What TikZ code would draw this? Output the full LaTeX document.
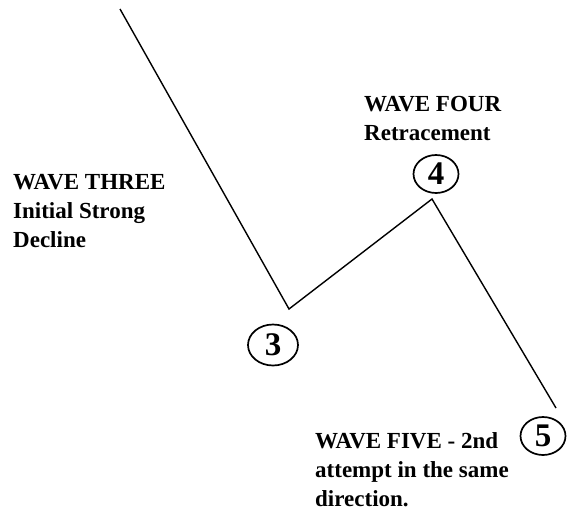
\documentclass[tikz,border=0pt]{standalone}
\usepackage{fontspec}
\setmainfont{Liberation Serif}
\usetikzlibrary{shapes.geometric}

\begin{document}
\begin{tikzpicture}[x=1pt,y=-1pt,
  num/.style = {draw,ellipse,line width=1.7pt,inner sep=0pt,minimum width=45pt,minimum height=38pt,font=\bfseries\fontsize{33}{33}\selectfont},
  lbl/.style = {align=left,anchor=base west,inner sep=0pt,font=\bfseries\fontsize{23}{29}\selectfont}]
\useasboundingbox (0,0) rectangle (575,514);

\coordinate (top) at (120,9);
\coordinate (w3) at (289,309);
\coordinate (w4) at (432,199);
\coordinate (w5) at (556,408);

\draw[line width=1.4pt] (top) -- (w3) -- (w4) -- (w5);

\node[num,minimum width=50pt,minimum height=41pt] (n3) at (273,345) {3};
\node[num] (n4) at (436,174) {4};
\node[num] (n5) at (543,436) {5};

\node[lbl] (t3) at (13,247) {WAVE THREE\\Initial Strong\\Decline};
\node[lbl] (t4) at (364,140) {WAVE FOUR\\Retracement};
\node[lbl] (t5) at (315,506) {WAVE FIVE - 2nd\\attempt in the same\\direction.};

\end{tikzpicture}
\end{document}
